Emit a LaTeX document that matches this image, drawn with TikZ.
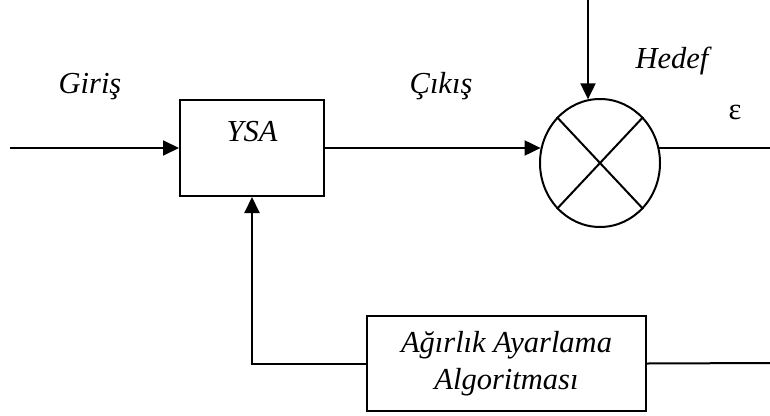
\documentclass[tikz,border=0pt]{standalone}
\usepackage{fontspec}
\setmainfont{Liberation Serif}
\usetikzlibrary{arrows.meta,shapes.geometric}
\begin{document}
\begin{tikzpicture}[x=1pt,y=-1pt,
  line width=2pt,
  every node/.style={font=\fontsize{30.5}{37}\selectfont\itshape},
  arr/.style={-{Triangle[length=16pt,width=15pt]}},
  blk/.style={draw,rectangle,inner sep=0pt},
  lbl/.style={anchor=base,inner sep=0pt}]
\useasboundingbox (0,0) rectangle (770,415);
% blocks
\node[blk,minimum width=144pt,minimum height=96pt] (ysa) at (252,148) {};
\node[lbl] (ysatxt) at (252,141) {YSA};
\node[draw,ellipse,minimum width=120pt,minimum height=128pt,inner sep=0pt] (sum) at (600,163) {};
\draw (sum.north east) -- (sum.south west);
\draw (sum.north west) -- (sum.south east);
\node[blk,minimum width=279pt,minimum height=95pt,align=center] (alg) at (506.5,363.5) {Ağırlık Ayarlama\\Algoritması};
% labels
\node[lbl] (giris) at (90,93) {Giriş};
\node[lbl] (cikis) at (441,93) {Çıkış};
\node[lbl] (hedef) at (672,68) {Hedef};
\node[lbl,font=\fontsize{30.5}{37}\selectfont\upshape] (eps) at (735,119.5) {ε};
% free ends
\coordinate (in) at (10,148);
\coordinate (hin) at (588,0);
\coordinate (out) at (770,147);
\coordinate (fbin) at (770,363);
% connectors
\draw[arr] (in) -- (ysa.west);
\draw[arr] (ysa.east) -- (sum.166 |- ysa.east);
\draw[arr] (hin) -- (hin |- sum.101);
\draw (sum.14) -- (sum.14 -| out);
\draw (fbin) -- (alg.east);
\draw[arr] (alg.west) -| (ysa.south);
\end{tikzpicture}
\end{document}
